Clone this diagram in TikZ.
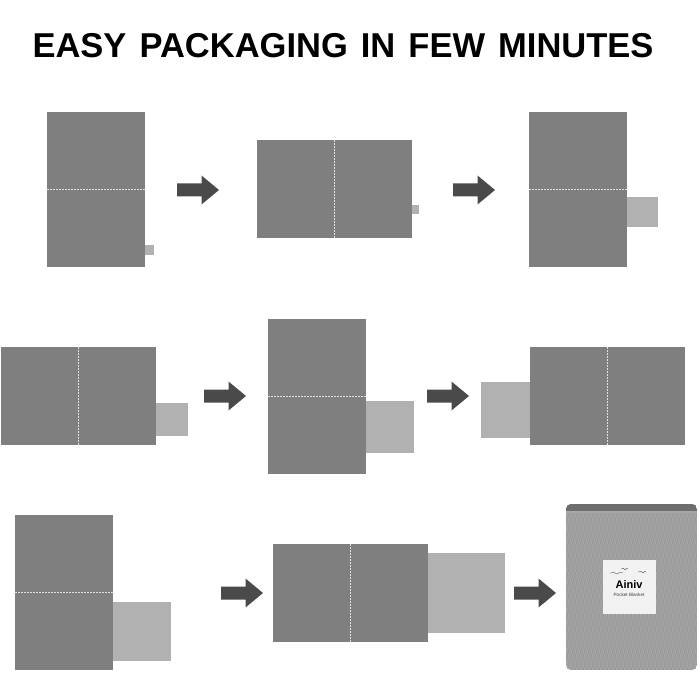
\documentclass[tikz,border=0pt]{standalone}
\usepackage{fontspec}
\setmainfont{Liberation Sans}
\definecolor{panel}{HTML}{7F7F7F}
\definecolor{flap}{HTML}{B1B1B1}
\definecolor{pointer}{HTML}{4A4A4A}
\definecolor{cloth}{HTML}{A0A0A0}
\definecolor{clothlight}{HTML}{B0B0B0}
\definecolor{clothdark}{HTML}{929292}
\definecolor{hem}{HTML}{6E6E6E}
\tikzset{
  panelbox/.style={fill=panel,draw=none},
  flapbox/.style={fill=flap,draw=none},
  foldline/.style={draw=white!88!black,line width=0.8pt,dash pattern=on 1.8pt off 1.2pt},
  pointerarrow/.style={fill=pointer,draw=none}
}
% pointer arrow: left end x, centre y
\newcommand{\pointerat}[2]{%
  \fill[pointerarrow] (#1,#2-6.5) -- (#1+24.5,#2-6.5) -- (#1+24.5,#2-14.5) -- (#1+42,#2)
    -- (#1+24.5,#2+14.5) -- (#1+24.5,#2+6.5) -- (#1,#2+6.5) -- cycle;}
% upright sheet: left, top, with its fold across the middle
\newcommand{\uprightsheet}[2]{%
  \fill[panelbox] (#1,#2) rectangle (#1+98,#2+155);
  \draw[foldline] (#1,#2+77.5) -- (#1+98,#2+77.5);}
% wide sheet: left, top, with its fold down the middle
\newcommand{\widesheet}[2]{%
  \fill[panelbox] (#1,#2) rectangle (#1+155,#2+98);
  \draw[foldline] (#1+77,#2) -- (#1+77,#2+98);}
\newcommand{\wordgap}{\hspace{3.5pt} }
\begin{document}
\begin{tikzpicture}[x=1pt,y=-1pt]
\useasboundingbox (0,0) rectangle (700,700);
\fill[white] (0,0) rectangle (700,700);

\node[anchor=base,font=\bfseries\fontsize{34.5}{38}\selectfont,inner sep=0pt] (title) at (343,57.5) {EASY\wordgap PACKAGING\wordgap IN\wordgap FEW\wordgap MINUTES};

% top row
\fill[flapbox] (145,245) rectangle (154,255);
\uprightsheet{47}{112}
\pointerat{177}{190}
\fill[flapbox] (412,205) rectangle (419,214);
\widesheet{257}{140}
\pointerat{453}{190}
\fill[flapbox] (627,197) rectangle (658,227);
\uprightsheet{529}{112}

% middle row
\fill[flapbox] (156,403) rectangle (188,436);
\widesheet{1}{347}
\pointerat{204}{396}
\fill[flapbox] (366,401) rectangle (414,453);
\uprightsheet{268}{319}
\pointerat{427}{396}
\fill[flapbox] (481,382) rectangle (530,438);
\widesheet{530}{347}

% bottom row
\fill[flapbox] (113,602) rectangle (171,661);
\uprightsheet{15}{515}
\pointerat{221}{593}
\fill[flapbox] (428,553) rectangle (505,633);
\widesheet{273}{544}
\pointerat{514}{593}

% packed pouch with woven texture
\begin{scope}
  \clip[rounded corners=5pt] (566,504) rectangle (697,670);
  \fill[cloth] (566,504) rectangle (697,670);
  \foreach \i in {0,...,62} {
    \draw[clothlight,line width=0.5pt,opacity=.7,dash pattern=on 2pt off 1pt] (480+\i*4,504) -- ++(50,170);
    \draw[clothdark,line width=0.5pt,opacity=.7,dash pattern=on 2pt off 1pt] (500+\i*4,504) -- ++(-50,170);
  }
  \fill[hem] (566,504) rectangle (697,511);
  \fill[clothlight,opacity=.5] (566,511) rectangle (697,513);
\end{scope}

% pouch label
\fill[white!95!black] (603,560) rectangle (656,614);
\draw[black!70,line width=0.35pt] (610,573) .. controls (613,572) and (615,572) .. (617,574) .. controls (619,572) and (621,572) .. (623,573);
\draw[black!70,line width=0.35pt] (621,569) .. controls (623,568) and (624,568) .. (625,570) .. controls (626,568) and (627,568) .. (628,569);
\draw[black!70,line width=0.35pt] (638,572) .. controls (640,571) and (642,571) .. (643,573) .. controls (644,571) and (645,571) .. (646,572);
\node[inner sep=0pt,font=\bfseries\fontsize{11}{12}\selectfont] (brand) at (629,584.5) {Ainiv};
\node[inner sep=0pt,font=\fontsize{4.6}{5}\selectfont,text=black!75] (product) at (629,594.5) {Pocket Blanket};
\end{tikzpicture}
\end{document}
